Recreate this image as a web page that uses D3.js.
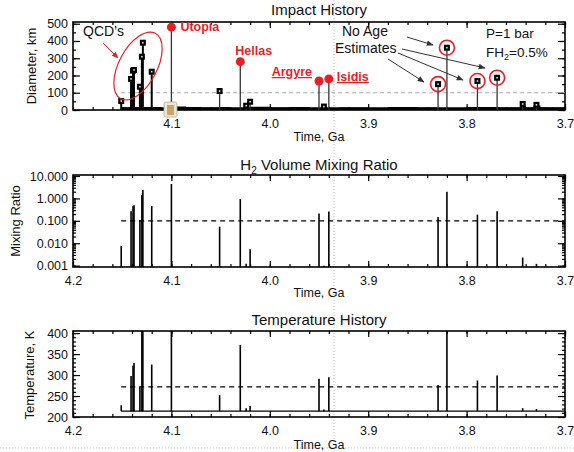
<!DOCTYPE html>
<html>
<head>
<meta charset="utf-8">
<script src="https://cdnjs.cloudflare.com/ajax/libs/d3/7.8.5/d3.min.js"></script>
<style>
body{margin:0;background:#fff;}
text{font-family:"Liberation Sans",Arial,sans-serif;}
</style>
</head>
<body>
<div id="chart"></div>
<script>
(function(){
	var width = 574, height = 452;

	// impact events (time in Ga)
	var eventTimes = [4.151,4.141,4.139,4.138,4.132,4.130,4.129,4.120,4.100,4.051,4.030,4.024,4.020,3.950,3.945,3.940,3.829,3.820,3.789,3.769,3.743,3.729];
	var eventDiam  = [52,180,228,232,135,309,390,222,480,110,280,25,48,168,20,180,150,361,168,187,35,30];
	var eventH2    = [0.0075,0.27,0.45,0.5,0.11,1.4,2.4,0.46,4.4,0.055,0.93,0.0012,0.0054,0.21,0.001,0.26,0.15,2.0,0.19,0.27,0.0023,0.0012];
	var eventTemp  = [228,298,322,329,272,420,420,325,430,252,372,221,226,291,218,295,276,430,287,299,221,219];
	var eventKind  = ["q","q","q","q","q","q","q","q","b","o","b","o","o","b","o","b","n","n","n","n","o","o"];
	var basinNames = ["Utopia","Hellas","Argyre","Isidis"];

	// background of small impacts
	var bgTimes = [4.151,4.14,4.125,4.11,4.095,4.085,4.07,4.05,4.04,4.02,4.0,3.98,3.96,3.93,3.9,3.88,3.85,3.83,3.80,3.77,3.745,3.740,3.732,3.725,3.70];
	var bgDiam  = [16,18,17,15,20,18,16,17,15,19,16,17,15,16,15,17,16,15,17,16,28,16,26,16,16];

	var baseTemp = 214;
	var h2Line = 0.1;
	var tempLine = 272;
	var diamLine = 100;

	var xTicksTop = [4.1,4.0,3.9,3.8,3.7];
	var xTicks = [4.2,4.1,4.0,3.9,3.8,3.7];
	var diamTicks = [0,100,200,300,400,500];
	var h2Ticks = [0.001,0.01,0.1,1,10];
	var tempTicks = [200,250,300,350,400];

	var svg = d3.select('#chart').append('svg')
		.attr('width', width)
		.attr('height', height)
		.style('background','#fff');

	var x = d3.scaleLinear().domain([4.2,3.7]).range([73,565]);

	// page guide lines
	svg.append('line').attr('x1',334).attr('x2',334).attr('y1',0).attr('y2',height)
		.attr('stroke','#bbb').attr('stroke-dasharray','1,2');
	svg.append('line').attr('x1',0).attr('x2',width).attr('y1',448).attr('y2',448)
		.attr('stroke','#bbb').attr('stroke-dasharray','1,2');

	function frame(top, bottom, y, yMajor, yMinor, xLabels, yFmt, clipId){
		var g = svg.append('g');
		var minorX = d3.range(4.2, 3.699, -0.02);
		g.append('g').attr('transform','translate(0,'+bottom+')')
			.call(d3.axisBottom(x).tickValues(minorX).tickSize(-3).tickFormat(''));
		g.append('g').attr('transform','translate(0,'+top+')')
			.call(d3.axisTop(x).tickValues(minorX).tickSize(-3).tickFormat(''));
		g.append('g').attr('transform','translate(0,'+bottom+')')
			.call(d3.axisBottom(x).tickValues(xLabels).tickSize(-6).tickPadding(9).tickFormat(d3.format('.1f')))
			.selectAll('text').attr('font-size',12.5).attr('fill','#111');
		g.append('g').attr('transform','translate(0,'+top+')')
			.call(d3.axisTop(x).tickValues(xTicks).tickSize(-6).tickFormat(''));
		g.append('g').attr('transform','translate(73,0)')
			.call(d3.axisLeft(y).tickValues(yMinor).tickSize(-3).tickFormat(''));
		g.append('g').attr('transform','translate(565,0)')
			.call(d3.axisRight(y).tickValues(yMinor).tickSize(-3).tickFormat(''));
		g.append('g').attr('transform','translate(73,0)')
			.call(d3.axisLeft(y).tickValues(yMajor).tickSize(-7).tickPadding(5).tickFormat(yFmt))
			.selectAll('text').attr('font-size',12.5).attr('fill','#111');
		g.append('g').attr('transform','translate(565,0)')
			.call(d3.axisRight(y).tickValues(yMajor).tickSize(-7).tickFormat(''));
		g.selectAll('.domain').remove();
		g.selectAll('.tick line').attr('stroke','#000').attr('stroke-width',1.2);
		svg.append('rect').attr('x',73).attr('y',top).attr('width',492).attr('height',bottom-top)
			.attr('fill','none').attr('stroke','#000').attr('stroke-width',1.6);
		svg.append('clipPath').attr('id',clipId).append('rect')
			.attr('x',73).attr('y',top).attr('width',492).attr('height',bottom-top);
	}

	function title(txt, cy){
		return svg.append('text').attr('x',319).attr('y',cy).attr('text-anchor','middle')
			.attr('font-size',15).attr('fill','#111').text(txt);
	}
	function xTitle(cy){
		svg.append('text').attr('x',319).attr('y',cy).attr('text-anchor','middle')
			.attr('font-size',12.5).attr('fill','#111').text('Time, Ga');
	}
	function yTitle(txt, cx, cy){
		svg.append('text').attr('transform','translate('+cx+','+cy+') rotate(-90)')
			.attr('text-anchor','middle').attr('font-size',13).attr('fill','#111').text(txt);
	}

	// ---------- panel 1: impact history ----------
	var y1 = d3.scaleLinear().domain([0,510]).range([110,22]);
	title('Impact History', 15);
	frame(22, 110, y1, diamTicks, d3.range(0,511,50), xTicksTop, d3.format('d'), 'c1');
	xTitle(141);
	yTitle('Diameter, km', 36, 66);

	var p1 = svg.append('g').attr('clip-path','url(#c1)');
	p1.append('line').attr('x1',x(4.151)).attr('x2',565).attr('y1',y1(diamLine)).attr('y2',y1(diamLine))
		.attr('stroke','#aaa').attr('stroke-width',1.2).attr('stroke-dasharray','4,3');

	var bg = bgTimes.map(function(t,i){ return [t,bgDiam[i]]; });
	p1.append('path').datum(bg)
		.attr('d', d3.area().curve(d3.curveStepAfter)
			.x(function(d){ return x(d[0]); }).y0(y1(0)).y1(function(d){ return y1(d[1]); }))
		.attr('fill','#000');
	p1.append('line').attr('x1',x(4.151)).attr('x2',565).attr('y1',109).attr('y2',109)
		.attr('stroke','#000').attr('stroke-width',3);

	var ev = eventTimes.map(function(t,i){
		return {t:t, d:eventDiam[i], h:eventH2[i], T:eventTemp[i], k:eventKind[i]};
	});

	p1.selectAll('line.stem').data(ev).enter().append('line').attr('class','stem')
		.attr('x1',function(d){ return x(d.t); }).attr('x2',function(d){ return x(d.t); })
		.attr('y1',y1(0)).attr('y2',function(d){ return y1(d.d); })
		.attr('stroke',function(d){ return d.k=='q'?'#000':'#333'; })
		.attr('stroke-width',function(d){ return d.k=='q'?2:1.3; });

	var marks = svg.append('g').selectAll('g').data(ev.filter(function(d){ return d.k!='b'; }))
		.enter().append('g')
		.attr('transform',function(d){ return 'translate('+x(d.t)+','+y1(d.d)+')'; });
	marks.append('rect').attr('x',-3).attr('y',-3).attr('width',6).attr('height',6).attr('fill','#000');
	marks.append('rect').attr('x',-0.8).attr('y',-0.8).attr('width',1.6).attr('height',1.6).attr('fill','#ddd');

	var basins = ev.filter(function(d){ return d.k=='b'; });
	svg.selectAll('circle.basin').data(basins).enter().append('circle').attr('class','basin')
		.attr('cx',function(d){ return x(d.t); }).attr('cy',function(d){ return y1(d.d); })
		.attr('r',4.5).attr('fill','#ec1c24');

	var red = '#ec1c24';
	var lab = [
		{dx:9, dy:4, a:'start', u:false},
		{dx:-5, dy:-7, a:'start', u:false},
		{dx:-7, dy:-5, a:'end', u:true},
		{dx:8, dy:2, a:'start', u:true}
	];
	basins.forEach(function(d,i){
		var t = svg.append('text').attr('x',x(d.t)+lab[i].dx).attr('y',y1(d.d)+lab[i].dy)
			.attr('text-anchor',lab[i].a).attr('font-size',12.5).attr('font-weight','bold')
			.attr('fill',red).text(basinNames[i]);
		if(lab[i].u) t.attr('text-decoration','underline');
	});

	ev.filter(function(d){ return d.k=='n'; }).forEach(function(d){
		svg.append('circle').attr('cx',x(d.t)).attr('cy',y1(d.d)).attr('r',7.5)
			.attr('fill','none').attr('stroke',red).attr('stroke-width',1.6);
	});

	// annotations
	var defs = svg.append('defs');
	function head(id,col){
		defs.append('marker').attr('id',id).attr('viewBox','0 0 10 10').attr('refX',9).attr('refY',5)
			.attr('markerWidth',7).attr('markerHeight',7).attr('orient','auto')
			.append('path').attr('d','M0,1L10,5L0,9Z').attr('fill',col);
	}
	head('ar','#ec1c24'); head('ab','#333');

	svg.append('text').attr('x',83).attr('y',36).attr('font-size',14).attr('fill','#111').text("QCD\u2019s");
	svg.append('ellipse').attr('transform','translate(138,66) rotate(-62)')
		.attr('rx',37).attr('ry',19).attr('fill','none').attr('stroke',red).attr('stroke-width',1.2);
	svg.append('line').attr('x1',103).attr('y1',43).attr('x2',118).attr('y2',58)
		.attr('stroke',red).attr('stroke-width',1).attr('marker-end','url(#ar)');

	svg.append('text').attr('x',342).attr('y',36).attr('font-size',14).attr('fill','#111').text('No Age');
	svg.append('text').attr('x',335).attr('y',53).attr('font-size',14).attr('fill','#111').text('Estimates');
	[[407,37,433,45],[402,49,485,68],[398,53,463,80],[388,59,424,82]].forEach(function(a){
		svg.append('line').attr('x1',a[0]).attr('y1',a[1]).attr('x2',a[2]).attr('y2',a[3])
			.attr('stroke','#333').attr('stroke-width',1).attr('marker-end','url(#ab)');
	});

	svg.append('text').attr('x',486).attr('y',38).attr('font-size',13.5).attr('fill','#111').text('P=1 bar');
	var fh = svg.append('text').attr('x',486).attr('y',57).attr('font-size',13.5).attr('fill','#111');
	fh.append('tspan').text('FH');
	fh.append('tspan').attr('font-size',9).attr('dy',3).text('2');
	fh.append('tspan').attr('dy',-3).text('=0.5%');

	// paste icon artifact
	svg.append('rect').attr('x',164).attr('y',102).attr('width',13).attr('height',15).attr('rx',2)
		.attr('fill','#efe6d2').attr('stroke','#aaa').attr('stroke-width',0.8);
	svg.append('rect').attr('x',167).attr('y',105).attr('width',7).attr('height',10)
		.attr('fill','#c9a66b');

	// ---------- panel 2: H2 mixing ratio ----------
	var y2 = d3.scaleLog().domain([0.00087,11.1]).range([267,175]);
	var t2 = title('', 170);
	t2.append('tspan').text('H');
	t2.append('tspan').attr('font-size',10).attr('dy',4).text('2');
	t2.append('tspan').attr('dy',-4).text(' Volume Mixing Ratio');
	var h2Minor = [];
	h2Ticks.forEach(function(d){ d3.range(1,10).forEach(function(k){ if(d*k<11) h2Minor.push(d*k); }); });
	frame(175, 267, y2, h2Ticks, h2Minor, xTicks, d3.format('.3f'), 'c2');
	xTitle(297);
	yTitle('Mixing Ratio', 20, 221);

	var p2 = svg.append('g').attr('clip-path','url(#c2)');
	p2.append('line').attr('x1',x(4.151)).attr('x2',565).attr('y1',y2(h2Line)).attr('y2',y2(h2Line))
		.attr('stroke','#000').attr('stroke-width',1.2).attr('stroke-dasharray','5,4');
	p2.selectAll('line.sp').data(ev).enter().append('line').attr('class','sp')
		.attr('x1',function(d){ return x(d.t); }).attr('x2',function(d){ return x(d.t); })
		.attr('y1',267).attr('y2',function(d){ return y2(d.h); })
		.attr('stroke','#000').attr('stroke-width',1.6);

	// ---------- panel 3: temperature ----------
	var y3 = d3.scaleLinear().domain([200,405]).range([417,331]);
	title('Temperature History', 325);
	frame(331, 417, y3, tempTicks, d3.range(200,406,10), xTicks, d3.format('d'), 'c3');
	xTitle(449);
	yTitle('Temperature, K', 34, 375);

	var p3 = svg.append('g').attr('clip-path','url(#c3)');
	p3.append('line').attr('x1',x(4.151)).attr('x2',565).attr('y1',y3(tempLine)).attr('y2',y3(tempLine))
		.attr('stroke','#000').attr('stroke-width',1.2).attr('stroke-dasharray','5,4');
	p3.append('line').attr('x1',x(4.151)).attr('x2',565).attr('y1',y3(baseTemp)).attr('y2',y3(baseTemp))
		.attr('stroke','#000').attr('stroke-width',1.3);
	p3.selectAll('line.sp').data(ev).enter().append('line').attr('class','sp')
		.attr('x1',function(d){ return x(d.t); }).attr('x2',function(d){ return x(d.t); })
		.attr('y1',y3(baseTemp)).attr('y2',function(d){ return y3(d.T); })
		.attr('stroke','#000').attr('stroke-width',1.6);
})();
</script>
</body>
</html>
